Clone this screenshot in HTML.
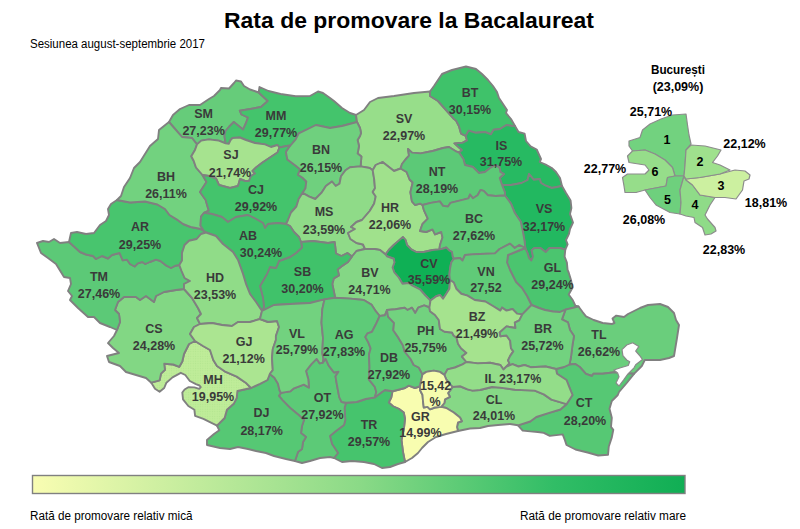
<!DOCTYPE html>
<html lang="ro"><head><meta charset="utf-8"><title>Rata de promovare la Bacalaureat</title>
<style>
html,body{margin:0;padding:0;background:#fff;}
body{width:800px;height:529px;overflow:hidden;position:relative;font-family:"Liberation Sans",sans-serif;}
svg{position:absolute;left:0;top:0;}
.c{stroke:#808080;stroke-width:1.9;stroke-linejoin:round;}
.s{stroke:#8c8c8c;stroke-width:1.2;stroke-linejoin:round;}
.l{font:bold 12.5px "Liberation Sans",sans-serif;fill:#3a3a3a;text-anchor:middle;}
.b{font:bold 12.5px "Liberation Sans",sans-serif;fill:#000;text-anchor:middle;}
.t{font:bold 22px "Liberation Sans",sans-serif;fill:#000;text-anchor:middle;}
.n{font:12px "Liberation Sans",sans-serif;fill:#000;}
</style></head><body>
<svg width="800" height="529" viewBox="0 0 800 529">
<defs><linearGradient id="g" x1="0" x2="1" y1="0" y2="0">
<stop offset="0" stop-color="#f9fdb2"/><stop offset="0.5" stop-color="#8bda87"/><stop offset="0.8" stop-color="#31bd66"/><stop offset="1" stop-color="#10ae54"/></linearGradient>
<pattern id="dots" width="2.4" height="2.4" patternUnits="userSpaceOnUse"><rect width="2.4" height="2.4" fill="#bfec99"/><circle cx="1.2" cy="1.2" r="0.55" fill="#b2e58f"/></pattern></defs>
<text class="t" x="409" y="28.2" textLength="370" lengthAdjust="spacingAndGlyphs">Rata de promovare la Bacalaureat</text>
<text class="n" x="30" y="48" textLength="175" lengthAdjust="spacingAndGlyphs">Sesiunea august-septembrie 2017</text>
<g id="map">
<polygon class="c" fill="#66cc7a" points="169,122 173,115 180,109 189,105 200,105 209,99 214,96 220,90 221,88 229,88.5 234,83 236,80.5 241,81.5 244,86 250,89.5 258.7,92.5 267.8,101 261,107 250.4,109 239.8,110.7 241.4,114.5 248,117.5 246,123 243,129.6 233.8,122 229.3,126.5 225.5,131 224.4,135.6 225.6,143.4 218.75,140.6 208.75,139.4 201.25,140.6 197,144.4 192,138 182,137 176,130"/>
<polygon class="c" fill="#44c46c" points="258.7,92.5 259.5,87 268.5,91 280.6,94 295.7,96.3 310,96 318,91.5 323,93 330,98 334,101 342,108 350,113 356,115 357,122 342,126 330,128 316,125 310,128 298.8,133.3 295.7,139.4 290.5,145.5 286.7,146 279.4,147.5 277.5,145 271,147 265,144.4 255,143 246,140 240,137.5 232.5,138 230.6,140 228.75,143.75 225.6,143.4 224.4,135.6 225.5,131 229.3,126.5 233.8,122 243,129.6 246,123 248,117.5 241.4,114.5 239.8,110.7 250.4,109 261,107 267.8,101"/>
<polygon class="c" fill="#97de8a" points="356,115 364,110 370,102 378,98 394,96 414,93 430,91.5 430,96 438,101 446,110 454,119 456,120.5 458.9,126 461,133.6 465.7,135.9 467,140.4 462.7,142.7 454.4,143.4 459.6,148 462,150 459,152.5 456.6,151.7 449,147 443,148 432.7,151 420.6,153.4 412,152.6 408,149 409,155.7 405.5,159.5 402,164 400.6,168.5 394,171 387,165.5 382.5,162 375.7,165 372.7,170.2 369.7,168 360.6,166.4 361.4,156.6 357.6,153.6 359,146 357.6,140 360,136 361,133 360,128 357,122"/>
<polygon class="c" fill="#3fc26a" points="430,91.5 434,86 442,74 452,70 466,66.5 476,69 482,74 488,80 493,86 497,92 499,98 503,104 507,110 506,113 511,119 515,126 512.5,126 506.5,125 500,129 493.6,129.8 491,134.4 485,132 476,132.8 468.7,130.6 465.7,135.9 461,133.6 458.9,126 456,120.5 454,119 446,110 438,101 430,96"/>
<polygon class="c" fill="#27ba62" points="515,126 518.5,132 524.6,133.6 526,141 530.6,146.4 536.7,149.5 541,159 539.7,162 545.7,164.6 551.8,168 556,172 560,178 562,186 551.8,188 545.7,185.7 541,183 539.7,179 533.7,179.7 529,174 527.6,180 521.6,183 511,185 502,185 499.7,178 504,174 500.4,172 499.7,168 496,165 490,168 485,172 479,173 473,167 465,165 463.4,159 459,152.5 462,150 459.6,148 454.4,143.4 462.7,142.7 467,140.4 465.7,135.9 468.7,130.6 476,132.8 485,132 491,134.4 493.6,129.8 500,129 506.5,125 512.5,126"/>
<polygon class="c" fill="#22b860" points="562,186 566,193 570.6,200.6 571.4,208 570,214 573,222.5 570,229 569,233.8 566,240 567.6,244.4 565.3,249.7 560,248 549.5,248 545.7,252 540.4,248 534.4,248 531.6,250.4 533,256.5 531.4,260.5 529,258 527.6,253.4 525.3,248 524.6,241.4 523,232.3 520.8,221.7 514.7,212.7 511,203.6 505,195.5 505,192.5 502,185 511,185 521.6,183 527.6,180 529,174 533.7,179.7 539.7,179 541,183 545.7,185.7 551.8,188"/>
<polygon class="c" fill="#4bc56f" points="565.3,249.7 564.6,256.5 566.9,262.5 567.6,270 568.7,272.5 571,280 572.5,287.7 568.7,294.5 572.5,299.7 575.5,305.8 578.5,306.5 565.5,309.6 560,312 553,311.5 545,310 539,308 531.5,305 527,296 522,288 516,282 512,274 510,270 507,262.5 508,255 517.8,251 525.3,248 527.6,253.4 529,258 531.4,260.5 533,256.5 531.6,250.4 534.4,248 540.4,248 545.7,252 549.5,248 560,248"/>
<polygon class="c" fill="#6ace7c" points="578.5,306.5 582.4,311.8 586,316.4 593.7,320 602.7,323 611.8,324 614.5,323 612.5,318.6 616.3,315.6 624,317 628,314 640,308 648,305 660,304 668,307 674,313 676,320 679,325 677,338 675,350 674,356 669,358 660,360 650,360 644.8,360 641.8,366 634,373.8 620,373 614.6,372.3 602.5,373.8 593.4,373.8 592,376 585.9,373.8 579.8,367 575.3,364 569.5,364.5 571,357 572.5,345 574,336 570,330 568,322.4 562,319.4 565.5,309.6"/>
<polygon class="c" fill="#56c874" points="634,373.8 626.7,383 619,392 617.8,395 611.8,401 609.5,408.7 611.8,417.8 611,426.8 613.3,429.8 611.8,437.4 608.8,446.5 608,454.8 598.2,455.5 587.6,452.5 575.5,449.5 566.5,445 565,440.4 562.7,434.4 549.8,435.9 543.8,432.9 537.8,432 530.2,431.4 522.7,430.6 518,425.3 530.2,421.5 536.3,417 548.3,413.2 560.4,409.5 566.5,404.2 572.5,395 569.5,387.6 566.5,380 557,373.8 556,369 564,367 569.5,364.5 575.3,364 579.8,367 585.9,373.8 592,376 593.4,373.8 602.5,373.8 614.6,372.3 620,373"/>
<polygon class="c" fill="#86d886" points="518,425.3 510,424 498,425 488,426 480,428 470,428.5 458,431 457,427 458,422.5 461.9,421.25 460,417.5 453.75,412.5 446.25,408 441.25,406.9 444.4,403 445,399.4 450,396.9 448,393 450,390.6 452.5,386.9 460,386.25 467.5,389.4 472.5,390.6 480,390 492,387 500,387.6 515,389.8 534.7,390.6 543.8,394.4 551.4,399.6 566.5,404.2 560.4,409.5 548.3,413.2 536.3,417 530.2,421.5"/>
<polygon class="c" fill="#f8fdb0" points="458,431 446,434 436,437 428,442 422,448 418,453 412,458 405,462 403,452 401.5,440 404,428 405,418.75 403.75,412.5 398.75,408.75 393,406.25 388.75,402.5 391.25,397.5 392.5,391.25 397.5,390 405,388 408.75,385.6 415,388 420,386.25 420,390 422.5,395 423,401.25 423.75,407.5 427.5,406.9 430,409.4 435,407.5 441.25,406.9 446.25,408 453.75,412.5 460,417.5 461.9,421.25 458,422.5 457,427"/>
<polygon class="c" fill="#46c46d" points="405,462 398,464 390,467 382,468 374,464 364,462 352,461 342,462 336,459 334,458 338,453 332,444 330,436 336,431 344,425 345.3,420 344.6,408 346,402.7 356.7,402 365.7,399 374.8,397.4 382,392 385,390 392.5,391.25 391.25,397.5 388.75,402.5 393,406.25 398.75,408.75 403.75,412.5 405,418.75 404,428 401.5,440 403,452"/>
<polygon class="c" fill="#5cca77" points="334,458 330,457 320,458 310,461 302,463 295,461 298,452 302,449 303,442 306,437 301,433 302,426 304,420 299.3,415.5 290.2,408 282.7,400.4 278.9,395.9 281,392.9 290.2,391.4 294,388.3 303.8,384.6 309,387.6 308.3,379.3 306,371 311.4,364.2 316.6,358.9 319.7,363.4 322.7,362.7 325.7,358.9 328.7,365.7 334,372.5 338.5,371.7 335.5,376.3 337,385.3 339.3,397.4 341.6,402 346,402.7 344.6,408 345.3,420 344,425 336,431 330,436 332,444 338,453"/>
<polygon class="c" fill="#56c874" points="295,461 286,459 274,456 266,453 256,451 248,449 238,447 230,449 220,448 207,445 207,440 208.7,438.5 214,434 219.3,430.2 217,425.7 224.6,418 226.9,409.8 233.7,403.8 236.7,397.8 237.4,391 244.2,389.5 251,388 260,383.8 267.5,380 269.8,374 274.4,377.8 278,383.8 279.6,390.6 281,392.9 278.9,395.9 282.7,400.4 290.2,408 299.3,415.5 304,420 302,426 301,433 306,437 303,442 302,449 298,452"/>
<polygon class="c" fill="url(#dots)" points="217,425.7 212.5,423.4 203.4,418.9 195.1,415.9 194.4,409.8 188.3,406 183,399.3 182.3,392.5 184.6,389.5 188.3,387.2 194.4,387.4 199.2,388.9 200.8,387.2 199.5,385.5 195.9,384.2 189.8,381 185.3,375 180.8,372.8 172.5,377.4 166.4,382.7 164.2,388 159.6,391.7 155,388.7 151.3,382.7 159.6,380.4 161,373.6 165,369.8 164.2,363.8 173.2,364.5 179.3,366.8 182.3,361.5 184,354 189,344 195,341 203,346 210,350 213.3,360 217,366 224.6,371.3 236.7,376.6 245.7,382.7 251,388 244.2,389.5 237.4,391 236.7,397.8 233.7,403.8 226.9,409.8 224.6,418"/>
<polygon class="c" fill="#82d784" points="151.3,382.7 146,378 136,375 126,372 120,366 109,362 107,356 119,353 113,348 108,343 114,336 117,330 120,322 119,314 115,310 118,302 124,297 136,297 140,300 146,296 154,302 156,296 164,292 176,290 184,289 192,298 198,308 201,314 197,318 200,324 194,327 190,334 195,341 189,344 184,354 182.3,361.5 179.3,366.8 173.2,364.5 164.2,363.8 165,369.8 161,373.6 159.6,380.4"/>
<polygon class="c" fill="#5cc977" points="117,330 110,327 100,323 94,317 88,317 78,308 70,300 72,296 68,291 71,284 70,278 64,277 56,264 48,258 41,253 37,243 43,241 49,242 54,239 60,243 69,242 74,246.5 80,252 86,254.5 93,256 96,259 102,256 108,258.5 112,255 119.6,253 122.7,260.4 127,259.7 130,264 134.7,266.5 137.8,263.4 142.3,262 145.3,264 149.8,262 156,259.7 160.4,261 166.5,265.7 171,268 175.5,265.7 179.3,265 181.6,271 184.6,278 190,281 184,284 184,289 176,290 164,292 156,296 154,302 146,296 140,300 136,297 124,297 118,302 115,310 119,314 120,322"/>
<polygon class="c" fill="#48c56e" points="69,242 71,233 77,232 86,234 94,233 100,225 106,221 109,215 108,209 111,204 117,200 130,202.5 145,201.5 157.4,204.5 165,209 169.5,215 177,219.6 183,224 190.6,227 199.7,228.7 204,231 206,232.5 201,234 196.7,239 189,240.8 184.6,245 182,253 182,260.4 179.3,265 175.5,265.7 171,268 166.5,265.7 160.4,261 156,259.7 149.8,262 145.3,264 142.3,262 137.8,263.4 134.7,266.5 130,264 127,259.7 122.7,260.4 119.6,253 112,255 108,258.5 102,256 96,259 93,256 86,254.5 80,252 74,246.5"/>
<polygon class="c" fill="#72d27f" points="117,200 121,196 124,187 130,178 134,168 140,162 145,154 150,146 158,139 159,130 169,122 176,130 182,137 192,138 197,144.4 195,150 191.3,156.3 193.75,161 196,167.5 202.5,175 206.5,182 200,192 205.7,200 206.5,203 208.8,210.6 204,212.8 201,216.6 200.5,225.7 204,231 199.7,228.7 190.6,227 183,224 177,219.6 169.5,215 165,209 157.4,204.5 145,201.5 130,202.5"/>
<polygon class="c" fill="#a6e38f" points="197,144.4 201.25,140.6 208.75,139.4 218.75,140.6 225.6,143.4 228.75,143.75 230.6,140 232.5,138 240,137.5 246,140 255,143 265,144.4 271,147 277.5,145 279.4,147.5 277.5,152.5 270,157.5 262.5,162.5 256,167.5 252.5,171 255,173.5 251,176 249,181 245,181 240,179 238,186 230,188 219,185 216,178.5 209,176 202.5,175 196,167.5 193.75,161 191.3,156.3 195,150"/>
<polygon class="c" fill="#44c46c" points="202.5,175 209,176 216,178.5 219,185 230,188 238,186 240,179 245,181 249,181 251,176 255,173.5 252.5,171 256,167.5 262.5,162.5 270,157.5 277.5,152.5 279.4,147.5 286.7,146 290.5,145.5 289.6,146.5 285.9,152 287.4,159.6 295.7,165.7 300.2,169.5 298,174.7 302.5,177.8 306.3,181.5 305.5,188.3 302.5,192.9 298.7,199 296.4,206.5 291,212.5 288,220 286,224 278,223 268,224 265,228 263,223 256,219 248,215 236,217 228,222 222,217 212,214 204,212.8 208.8,210.6 206.5,203 205.7,200 200,192 206.5,182"/>
<polygon class="c" fill="#6fd07e" points="290.5,145.5 295.7,139.4 298.8,133.3 310,128 316,125 330,128 342,126 357,122 360,128 361,133 360,136 357.6,140 359,146 357.6,153.6 361.4,156.6 360.6,166.4 350,167.2 345.5,170.2 341,176.3 339.5,183.8 335.7,186 332,181.5 325.9,186 321.4,192.9 315.3,199 309.3,196.6 302.5,192.9 305.5,188.3 306.3,181.5 302.5,177.8 298,174.7 300.2,169.5 295.7,165.7 287.4,159.6 285.9,152 289.6,146.5"/>
<polygon class="c" fill="#8fdb88" points="302.5,192.9 309.3,196.6 315.3,199 321.4,192.9 325.9,186 332,181.5 335.7,186 339.5,183.8 341,176.3 345.5,170.2 350,167.2 360.6,166.4 369.7,168 372.7,170.2 374.2,179.3 375,188.3 372.7,192 375.7,196.6 374.2,203.4 369.7,211 362,220 356.5,222 351,227 355,229 348,233 350.4,239 356.5,243 363,244.5 365,249 356.5,251 352,256.5 347.4,253 341.4,256 336,253.5 335.3,247 334.6,242 328,243 313,241 301,242 299,237 294,232 290,226 286,224 288,220 291,212.5 296.4,206.5 298.7,199"/>
<polygon class="c" fill="#a0e18c" points="372.7,170.2 375.7,165 382.5,162 387,165.5 394,171 400.6,168.5 406.6,172 409.6,179.5 412.7,182.5 410.4,192.3 411.9,201.4 415,205 420.2,203.6 422.5,205 424,210.4 427.8,218.7 422.5,224 420,231 426.25,232 432.5,229.4 435,234.4 441.25,232 442.5,237.5 440,245 439.4,249.4 432.5,250 423.75,252 416.25,252 411.25,249.4 407,245 405.6,240 403,237 398.75,240.6 393.75,245 388.75,250 385.6,254.4 380,250 374.6,249 365,249 363,244.5 356.5,243 350.4,239 348,233 355,229 351,227 356.5,222 362,220 369.7,211 374.2,203.4 375.7,196.6 372.7,192 375,188.3 374.2,179.3"/>
<polygon class="c" fill="#5cc977" points="400.6,168.5 402,164 405.5,159.5 409,155.7 408,149 412,152.6 420.6,153.4 432.7,151 443,148 449,147 456.6,151.7 459,152.5 463.4,159 465,165 473,167 479,173 485,172 490,168 496,165 499.7,168 500.4,172 504,174 499.7,178 502,185 505,192.5 505,195.5 495.7,196 488,195.3 483.7,190.8 480.6,190 477.6,195.3 473,198.3 470,194.6 468.5,198.3 459.5,200.6 450.4,202.9 448,206.6 443,205.9 439.8,201.4 430.8,202.9 422.5,205 420.2,203.6 415,205 411.9,201.4 410.4,192.3 412.7,182.5 409.6,179.5 406.6,172"/>
<polygon class="c" fill="#60cb78" points="422.5,205 430.8,202.9 439.8,201.4 443,205.9 448,206.6 450.4,202.9 459.5,200.6 468.5,198.3 470,194.6 473,198.3 477.6,195.3 480.6,190 483.7,190.8 488,195.3 495.7,196 505,195.5 511,203.6 514.7,212.7 520.8,221.7 523,232.3 524.6,241.4 525.3,248 519.3,245 514.7,248 510,243.6 499.6,249 495,253.4 480,254 472.5,254.4 465,255 462.5,260.6 460,258 453.75,258.75 452.5,256.25 452,252 449.4,250.6 446.25,247.5 442.5,248.75 439.4,249.4 440,245 442.5,237.5 441.25,232 435,234.4 432.5,229.4 426.25,232 420,231 422.5,224 427.8,218.7 424,210.4"/>
<polygon class="c" fill="#0fb055" points="385.6,254.4 388.75,250 393.75,245 398.75,240.6 403,237 405.6,240 407,245 411.25,249.4 416.25,252 423.75,252 432.5,250 439.4,249.4 442.5,248.75 446.25,247.5 449.4,250.6 452,252 452.5,256.25 453.75,258.75 451.25,262.5 450,268.75 449.4,275 450,280 449.4,288.75 446.25,293.75 443,298.75 440,295 436.25,296.25 430.5,300.6 425,295 420,289.4 412.5,285.6 408.75,283 402.5,283.75 398.75,277.5 394.4,272.5 392.5,267.5 394.4,262.5 393.75,258.75 386.9,256.25"/>
<polygon class="c" fill="#60cb78" points="453.75,258.75 460,258 462.5,260.6 465,255 472.5,254.4 480,254 495,253.4 499.6,249 510,243.6 514.7,248 519.3,245 525.3,248 517.8,251 508,255 507,262.5 510,270 512,274 516,282 522,288 527,296 531.5,305 522.3,314.4 517,313.6 512.5,309 506.5,310.6 502,307.6 500.4,310.6 492.9,306 485.3,301.5 474.7,300 467.5,295.6 461.25,293.75 456.25,288.75 453.75,282.5 450,280 449.4,275 450,268.75 451.25,262.5"/>
<polygon class="c" fill="#84d785" points="365,249 374.6,249 380,250 385.6,254.4 386.9,256.25 393.75,258.75 394.4,262.5 392.5,267.5 394.4,272.5 398.75,277.5 402.5,283.75 408.75,283 412.5,285.6 420,289.4 425,295 430.5,300.6 429.4,307.5 424.2,305.4 418.2,307.7 415.2,313 412,307.7 407.6,310 404.6,307.7 395.5,309.2 387,310 385,315.2 379.7,316 375.9,311.4 371.4,304.6 363.8,300 350.2,298.6 335,297.8 334.6,295 332.3,284 333.8,278.4 339,275.4 337.6,269.4 341.4,266.4 348,262 352,256.5 356.5,251"/>
<polygon class="c" fill="#40c26a" points="301,242 313,241 328,243 334.6,242 335.3,247 336,253.5 341.4,256 347.4,253 352,256.5 348,262 341.4,266.4 337.6,269.4 339,275.4 333.8,278.4 332.3,284 334.6,295 335,297.8 324.5,299.4 310,303 290,304 274,305 262,311 264,307 263,298 260,286 267,274 270,267 276,268 279,261 290,257 296,253 302,247.5"/>
<polygon class="c" fill="#40c26a" points="204,212.8 212,214 222,217 228,222 236,217 248,215 256,219 263,223 265,228 268,224 278,223 286,224 290,226 294,232 299,237 301,242 302,247.5 296,253 290,257 279,261 276,268 270,267 267,274 260,286 263,298 264,307 262,311 256,302 250,294 246,284 243,274 238,260 233,252 223,244 216,236 206,232.5 204,231 200.5,225.7 201,216.6"/>
<polygon class="c" fill="#90dc88" points="206,232.5 216,236 223,244 233,252 238,260 243,274 246,284 250,294 256,302 262,311 261,315 260,319 250,322 238,322 232,326 222,325 212,323 200,324 197,318 201,314 198,308 192,298 184,289 184,284 190,281 184.6,278 181.6,271 179.3,265 182,260.4 182,253 184.6,245 189,240.8 196.7,239 201,234"/>
<polygon class="c" fill="#abe591" points="200,324 212,323 222,325 232,326 238,322 250,322 260,319 268,322 277,321 279,327 275.9,336 275.9,340 272.8,349 272,358 272.8,370.2 269.8,374 267.5,380 260,383.8 251,388 245.7,382.7 236.7,376.6 224.6,371.3 217,366 213.3,360 210,350 203,346 195,341 190,334 194,327"/>
<polygon class="c" fill="#72d27f" points="262,311 274,305 290,304 310,303 324.5,299.4 322.3,309.2 321.5,322.8 323,337.9 322.3,353 323.5,359 322.7,362.7 319.7,363.4 316.6,358.9 311.4,364.2 306,371 308.3,379.3 309,387.6 303.8,384.6 294,388.3 290.2,391.4 281,392.9 279.6,390.6 278,383.8 274.4,377.8 269.8,374 272.8,370.2 272,358 272.8,349 275.9,340 275.9,336 279,327 277,321 268,322 260,319 261,315"/>
<polygon class="c" fill="#5ecb78" points="324.5,299.4 335,297.8 350.2,298.6 363.8,300 371.4,304.6 375.9,311.4 379.7,316 375.9,324.3 372,331.8 367.6,333.3 365.3,337 368.3,342.4 370.6,348.4 369,354.5 369.5,367.2 368.8,379.3 374.8,386.8 376.3,392 374.8,397.4 365.7,399 356.7,402 346,402.7 341.6,402 339.3,397.4 337,385.3 335.5,376.3 338.5,371.7 334,372.5 328.7,365.7 325.7,358.9 322.7,362.7 323.5,359 322.3,353 323,337.9 321.5,322.8 322.3,309.2"/>
<polygon class="c" fill="#5cca77" points="379.7,316 385,315.2 387,310 388,316.7 394,322.8 393.3,330.3 398.5,337.9 403,345.4 404.6,351.5 410.6,359 413.75,365 418.75,367.5 422.5,374.4 421.25,380 420,386.25 415,388 408.75,385.6 405,388 397.5,390 392.5,391.25 385,390 382,392 374.8,397.4 376.3,392 374.8,386.8 368.8,379.3 369.5,367.2 369,354.5 370.6,348.4 368.3,342.4 365.3,337 367.6,333.3 372,331.8 375.9,324.3"/>
<polygon class="c" fill="#72d27f" points="387,310 395.5,309.2 404.6,307.7 407.6,310 412,307.7 415.2,313 418.2,307.7 424.2,305.4 429.4,307.5 430,311.25 435,315 438.75,320 440,329 444.5,331.7 452,332.5 453.6,335.5 456.6,337.8 458,343.8 461,348.3 466.4,352.9 461.9,356.6 466.4,362 462.5,364.4 455,367.5 447.5,369.4 444.4,375 440,371.9 433.75,370.6 426.25,371.9 422.5,374.4 418.75,367.5 413.75,365 410.6,359 404.6,351.5 403,345.4 398.5,337.9 393.3,330.3 394,322.8 388,316.7"/>
<polygon class="c" fill="#a5e38e" points="430.5,300.6 436.25,296.25 440,295 443,298.75 446.25,293.75 449.4,288.75 450,280 453.75,282.5 456.25,288.75 461.25,293.75 467.5,295.6 474.7,300 485.3,301.5 492.9,306 500.4,310.6 502,307.6 506.5,310.6 512.5,309 517,313.6 522.3,314.4 519.3,320.4 514.8,322.7 515.5,328 506.5,326.4 499.7,332.5 500.4,336.3 506.5,335.5 510.2,340.8 511,348.3 513.3,351.4 510.2,355.9 508,360.4 509.5,363.4 506.5,366.5 503.4,369.5 500.4,365 490,362.7 477.8,363.4 466.4,362 461.9,356.6 466.4,352.9 461,348.3 458,343.8 456.6,337.8 453.6,335.5 452,332.5 444.5,331.7 440,329 438.75,320 435,315 430,311.25 429.4,307.5"/>
<polygon class="c" fill="#72d27f" points="522.3,314.4 531.5,305 539,308 545,310 553,311.5 560,312 565.5,309.6 562,319.4 568,322.4 570,330 574,336 572.5,345 571,357 569.5,364.5 564,367 556,369 545.7,366.5 530.6,367.2 524.6,365 518.5,366.5 512.5,364.2 506.5,366.5 509.5,363.4 508,360.4 510.2,355.9 513.3,351.4 511,348.3 510.2,340.8 506.5,335.5 500.4,336.3 499.7,332.5 506.5,326.4 515.5,328 514.8,322.7 519.3,320.4"/>
<polygon class="c" fill="#93dd89" points="466.4,362 477.8,363.4 490,362.7 500.4,365 503.4,369.5 506.5,366.5 512.5,364.2 518.5,366.5 524.6,365 530.6,367.2 545.7,366.5 556,369 557,373.8 566.5,380 569.5,387.6 572.5,395 566.5,404.2 551.4,399.6 543.8,394.4 534.7,390.6 515,389.8 500,387.6 492,387 480,390 472.5,390.6 467.5,389.4 460,386.25 452.5,386.9 450,384.4 446.25,379.4 444.4,375 447.5,369.4 455,367.5 462.5,364.4"/>
<polygon class="c" fill="#f6fcae" points="422.5,374.4 426.25,371.9 433.75,370.6 440,371.9 444.4,375 446.25,379.4 450,384.4 452.5,386.9 450,390.6 448,393 450,396.9 445,399.4 444.4,403 441.25,406.9 435,407.5 430,409.4 427.5,406.9 423.75,407.5 423,401.25 422.5,395 420,390 420,386.25 421.25,380"/>
<polygon fill="#fff" stroke="#8a8a8a" stroke-width="1.2" stroke-linejoin="round" points="622,349.6 626.7,345 632.7,342.8 638.8,346.6 635.7,351 640.3,356.4 642.5,359.5 635.7,364.7 634,367.8 628,373.8 623.7,379.8 619,386 616,383 619,376.8 617.6,373 613.8,370 620.6,367.8 628.2,365.5 629.7,361.7 626.7,360 622.9,355.7"/>
</g>
<g id="labels">
<text class="l" x="203.6" y="117.5">SM</text>
<text class="l" x="203.6" y="134.5">27,23%</text>
<text class="l" x="276" y="119.5">MM</text>
<text class="l" x="276" y="136.5">29,77%</text>
<text class="l" x="321" y="153.5">BN</text>
<text class="l" x="321" y="171.5">26,15%</text>
<text class="l" x="404" y="122.5">SV</text>
<text class="l" x="404" y="139.5">22,97%</text>
<text class="l" x="470" y="96.5">BT</text>
<text class="l" x="470" y="113.5">30,15%</text>
<text class="l" x="501.4" y="149.5">IS</text>
<text class="l" x="501" y="165.5">31,75%</text>
<text class="l" x="437" y="175.5">NT</text>
<text class="l" x="437" y="192.5">28,19%</text>
<text class="l" x="166" y="180.5">BH</text>
<text class="l" x="166" y="197.5">26,11%</text>
<text class="l" x="231" y="158.5">SJ</text>
<text class="l" x="230" y="176.5">21,74%</text>
<text class="l" x="256" y="193.5">CJ</text>
<text class="l" x="256" y="210.5">29,92%</text>
<text class="l" x="324" y="215.5">MS</text>
<text class="l" x="324" y="233.5">23,59%</text>
<text class="l" x="390" y="211.5">HR</text>
<text class="l" x="390" y="228.5">22,06%</text>
<text class="l" x="474" y="222.5">BC</text>
<text class="l" x="474" y="239.5">27,62%</text>
<text class="l" x="544" y="212.5">VS</text>
<text class="l" x="544" y="230.5">32,17%</text>
<text class="l" x="140" y="230.5">AR</text>
<text class="l" x="140" y="248.5">29,25%</text>
<text class="l" x="248" y="239.5">AB</text>
<text class="l" x="261" y="256.5">30,24%</text>
<text class="l" x="99" y="280.5">TM</text>
<text class="l" x="99" y="297.5">27,46%</text>
<text class="l" x="215" y="281.5">HD</text>
<text class="l" x="215" y="298.5">23,53%</text>
<text class="l" x="302.5" y="275.5">SB</text>
<text class="l" x="302.5" y="292.5">30,20%</text>
<text class="l" x="370" y="276.5">BV</text>
<text class="l" x="369.5" y="293.5">24,71%</text>
<text class="l" x="429" y="267.5">CV</text>
<text class="l" x="429" y="284">35,59%</text>
<text class="l" x="486" y="275.5">VN</text>
<text class="l" x="486" y="291.5">27,52</text>
<text class="l" x="552.5" y="271.5">GL</text>
<text class="l" x="552.5" y="289">29,24%</text>
<text class="l" x="154" y="332.5">CS</text>
<text class="l" x="154" y="349.5">24,28%</text>
<text class="l" x="244" y="345.5">GJ</text>
<text class="l" x="243.6" y="362.5">21,12%</text>
<text class="l" x="297" y="337.5">VL</text>
<text class="l" x="297" y="354.1">25,79%</text>
<text class="l" x="344" y="338.5">AG</text>
<text class="l" x="344" y="355.5">27,83%</text>
<text class="l" x="389" y="361.5">DB</text>
<text class="l" x="389" y="378.5">27,92%</text>
<text class="l" x="425.6" y="334.5">PH</text>
<text class="l" x="425.6" y="351.5">25,75%</text>
<text class="l" x="477" y="320.5">BZ</text>
<text class="l" x="477" y="337.5">21,49%</text>
<text class="l" x="543" y="332.5">BR</text>
<text class="l" x="542.4" y="349.5">25,72%</text>
<text class="l" x="599" y="338.9">TL</text>
<text class="l" x="599" y="356.1">26,62%</text>
<text class="l" x="213" y="384.1">MH</text>
<text class="l" x="213" y="400.9">19,95%</text>
<text class="l" x="261.6" y="417.1">DJ</text>
<text class="l" x="261.6" y="434.5">28,17%</text>
<text class="l" x="322.4" y="402.1">OT</text>
<text class="l" x="322.4" y="418.9">27,92%</text>
<text class="l" x="369" y="428.5">TR</text>
<text class="l" x="369" y="445.5">29,57%</text>
<text class="l" x="420.4" y="420.5">GR</text>
<text class="l" x="420.4" y="436.9">14,99%</text>
<text class="l" x="435.6" y="389.5">15,42</text>
<text class="l" x="435" y="406.1">%</text>
<text class="l" x="513" y="383.1">IL 23,17%</text>
<text class="l" x="494" y="403.5">CL</text>
<text class="l" x="494" y="419.5">24,01%</text>
<text class="l" x="584" y="406.9">CT</text>
<text class="l" x="585" y="424.5">28,20%</text>
</g>
<g id="inset">
<polygon class="s" fill="#72d27f" points="629,141 640,137.5 642.5,130 650,124 661,119 672.5,115 686,114 687.5,125 689,135 691,144 686,150 685,165 684,176 675,176 672.5,167.5 665,160 655,154 645,150 632.5,151 629,146"/>
<polygon class="s" fill="#96dd8a" points="632.5,151 645,150 655,154 665,160 672.5,167.5 675,176 667.5,177.5 666,186 645,190 636,192.5 625,192.5 624,186 622.5,177.5 627.5,174 645,174 649,170 645,165 629,162.5 627.5,156"/>
<polygon class="s" fill="#6ed07d" points="645,190 666,186 667.5,177.5 675,176 684,176 680,190 681,202.5 680,214 670,212.5 656,205 650,197.5"/>
<polygon class="s" fill="#8fdb88" points="684,176 686,180 692.5,185 700,195 715,197.5 710,205 705,215 707.5,219 715,227.5 716,231 711,234 705,235 702.5,227.5 695,222.5 694,217.5 686,216 680,214 681,202.5 680,190"/>
<polygon class="s" fill="#ccf0a0" points="684,176 686,179 700,177.5 720,174 735,170 745,171 750,175 749,179 744,181 742.5,190 736,199 725,197.5 715,197.5 700,195 692.5,185 686,180"/>
<polygon class="s" fill="#9fe18d" points="686,150 691,145 705,146 721,150 717.5,156 712.5,162.5 720,165 730,170 720,174 700,177.5 686,179 684,176 685,165"/>
<text class="b" x="667" y="143.5">1</text>
<text class="b" x="700" y="166">2</text>
<text class="b" x="721" y="189.5">3</text>
<text class="b" x="695" y="208.5">4</text>
<text class="b" x="667.5" y="203.5">5</text>
<text class="b" x="655" y="175.5">6</text>
<text class="b" x="678" y="73.5" textLength="54" lengthAdjust="spacingAndGlyphs">București</text>
<text class="b" x="678" y="91">(23,09%)</text>
<text class="b" x="651" y="115.5">25,71%</text>
<text class="b" x="744.5" y="147.5">22,12%</text>
<text class="b" x="605" y="173">22,77%</text>
<text class="b" x="766" y="207">18,81%</text>
<text class="b" x="644" y="223.5">26,08%</text>
<text class="b" x="724" y="253.5">22,83%</text>
</g>
<rect x="32.5" y="475.5" width="652.5" height="18" fill="url(#g)" stroke="#808080" stroke-width="1.4"/>
<text class="n" x="30" y="520.3" textLength="162.5" lengthAdjust="spacingAndGlyphs">Rată de promovare relativ mică</text>
<text class="n" x="520" y="520.3" textLength="166" lengthAdjust="spacingAndGlyphs">Rată de promovare relativ mare</text>
</svg></body></html>
